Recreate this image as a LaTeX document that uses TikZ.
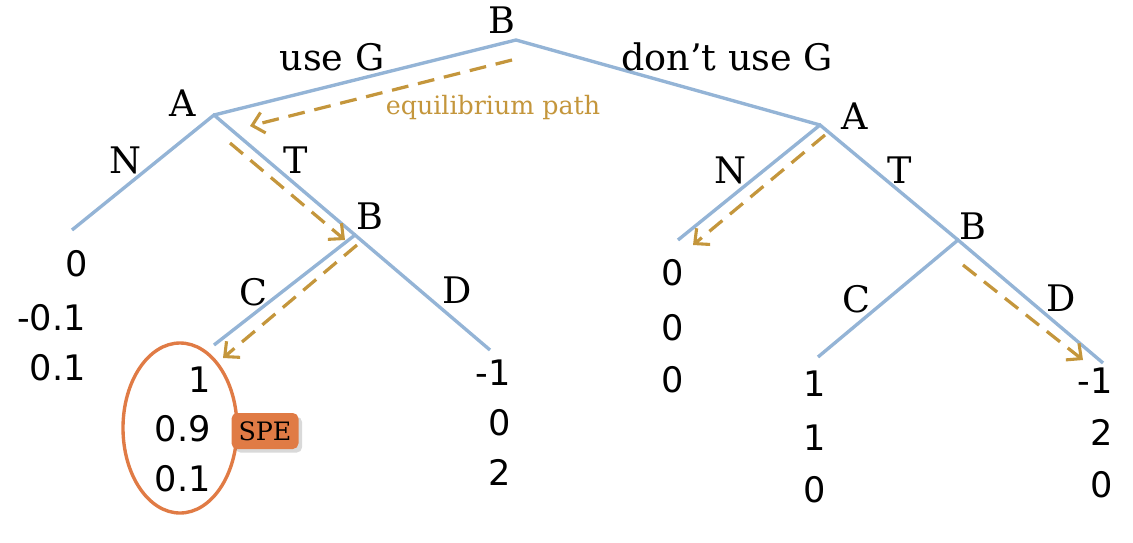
\documentclass[tikz,border=0pt]{standalone}
\usepackage{fontspec}
\setmainfont{DejaVu Serif}
\newfontfamily\payfont{DejaVu Sans}
\usetikzlibrary{arrows.meta,shadows}
\definecolor{branchblue}{HTML}{94B4D6}
\definecolor{pathgold}{HTML}{C4963C}
\definecolor{speorange}{HTML}{E07B45}
\tikzset{
	branch/.style={line width=2.4pt, color=branchblue},
	eqpath/.style={line width=2.3pt, color=pathgold, dash pattern=on 12pt off 7pt,
		-{Straight Barb[length=8pt,width=15pt,line width=2.2pt]}},
	lbl/.style={font=\fontsize{26}{30}\selectfont, inner sep=0pt},
	pay/.style={font=\payfont\fontsize{25}{30}\selectfont, inner sep=0pt},
}

\begin{document}
\begin{tikzpicture}[x=0.025cm, y=-0.025cm]
		%%%%% START %%%%%
		\useasboundingbox (0,0) rectangle (1133,542);
		
		% decision nodes
		\coordinate (root) at (516, 40);
		\coordinate (lA) at (214, 115);
		\coordinate (rA) at (820, 125);
		\coordinate (lB) at (355, 235);
		\coordinate (rB) at (958, 240);
		
		% leaves
		\coordinate (lN) at (72, 230);
		\coordinate (lC) at (214, 345);
		\coordinate (lD) at (490, 350);
		\coordinate (rN) at (678, 240);
		\coordinate (rC) at (818, 357);
		\coordinate (rD) at (1103, 363);
		
		\draw[branch] (lA) -- (root) -- (rA);
		\draw[branch] (lN) -- (lA) -- (lB);
		\draw[branch] (lC) -- (lB) -- (lD);
		\draw[branch] (rN) -- (rA) -- (rB);
		\draw[branch] (rC) -- (rB) -- (rD);
		
		% player and move labels
		\node[lbl] (pB) at (502, 20) {B};
		\node[lbl] (pAl) at (183, 103) {A};
		\node[lbl] (pAr) at (855, 116) {A};
		\node[lbl] (pBl) at (370, 216) {B};
		\node[lbl] (pBr) at (973, 226) {B};
		
		\node[lbl] (useG) at (332, 57) {use G};
		\node[lbl] (noG) at (727, 57) {don't use G};
		\node[lbl] (mNl) at (125, 160) {N};
		\node[lbl] (mTl) at (296, 160) {T};
		\node[lbl] (mCl) at (253, 292) {C};
		\node[lbl] (mDl) at (457, 290) {D};
		\node[lbl] (mNr) at (730, 170) {N};
		\node[lbl] (mTr) at (900, 170) {T};
		\node[lbl] (mCr) at (856, 299) {C};
		\node[lbl] (mDr) at (1061, 298) {D};
		
		% payoffs
		\node[pay, anchor=base east] (yN1) at (88, 276) {0};
		\node[pay, anchor=base east] (yN2) at (86, 330) {-0.1};
		\node[pay, anchor=base east] (yN3) at (86, 380) {0.1};
		
		\node[pay, anchor=base east] (yC1) at (211, 392) {1};
		\node[pay, anchor=base east] (yC2) at (211, 441) {0.9};
		\node[pay, anchor=base east] (yC3) at (211, 491) {0.1};
		
		\node[pay, anchor=base east] (yD1) at (511, 385) {-1};
		\node[pay, anchor=base east] (yD2) at (511, 435) {0};
		\node[pay, anchor=base east] (yD3) at (511, 485) {2};
		
		\node[pay, anchor=base] (zN1) at (673, 285) {0};
		\node[pay, anchor=base] (zN2) at (673, 340) {0};
		\node[pay, anchor=base] (zN3) at (673, 392) {0};
		
		\node[pay, anchor=base] (zC1) at (815, 396) {1};
		\node[pay, anchor=base] (zC2) at (815, 450) {1};
		\node[pay, anchor=base] (zC3) at (815, 502) {0};
		
		\node[pay, anchor=base east] (zD1) at (1113, 393) {-1};
		\node[pay, anchor=base east] (zD2) at (1113, 445) {2};
		\node[pay, anchor=base east] (zD3) at (1113, 497) {0};
		
		% equilibrium path
		\coordinate (e0) at (512, 60);
		\coordinate (e1) at (250, 126);
		\coordinate (e2) at (230, 143);
		\coordinate (e3) at (345, 240);
		\coordinate (e4) at (357, 245);
		\coordinate (e5) at (223, 358);
		\coordinate (e6) at (825, 135);
		\coordinate (e7) at (693, 245);
		\coordinate (e8) at (963, 265);
		\coordinate (e9) at (1083, 360);
		
		\draw[eqpath] (e0) -- (e1);
		\draw[eqpath] (e2) -- (e3);
		\draw[eqpath] (e4) -- (e5);
		\draw[eqpath] (e6) -- (e7);
		\draw[eqpath] (e8) -- (e9);
		\node[font=\fontsize{18}{21}\selectfont, color=pathgold, inner sep=0pt] (eqlbl) at (493, 108) {equilibrium path};
		
		% subgame perfect outcome
		\draw[line width=2.4pt, color=speorange] (180, 428) ellipse (57 and 85);
		\node[fill=speorange, rounded corners=4pt, drop shadow={opacity=0.3},
			minimum width=67*0.025cm, minimum height=36*0.025cm, inner sep=0pt,
			font=\fontsize{18}{21}\selectfont] (spe) at (265, 431) {SPE};
		
		%%%%% END %%%%%
	\end{tikzpicture}
\end{document}
